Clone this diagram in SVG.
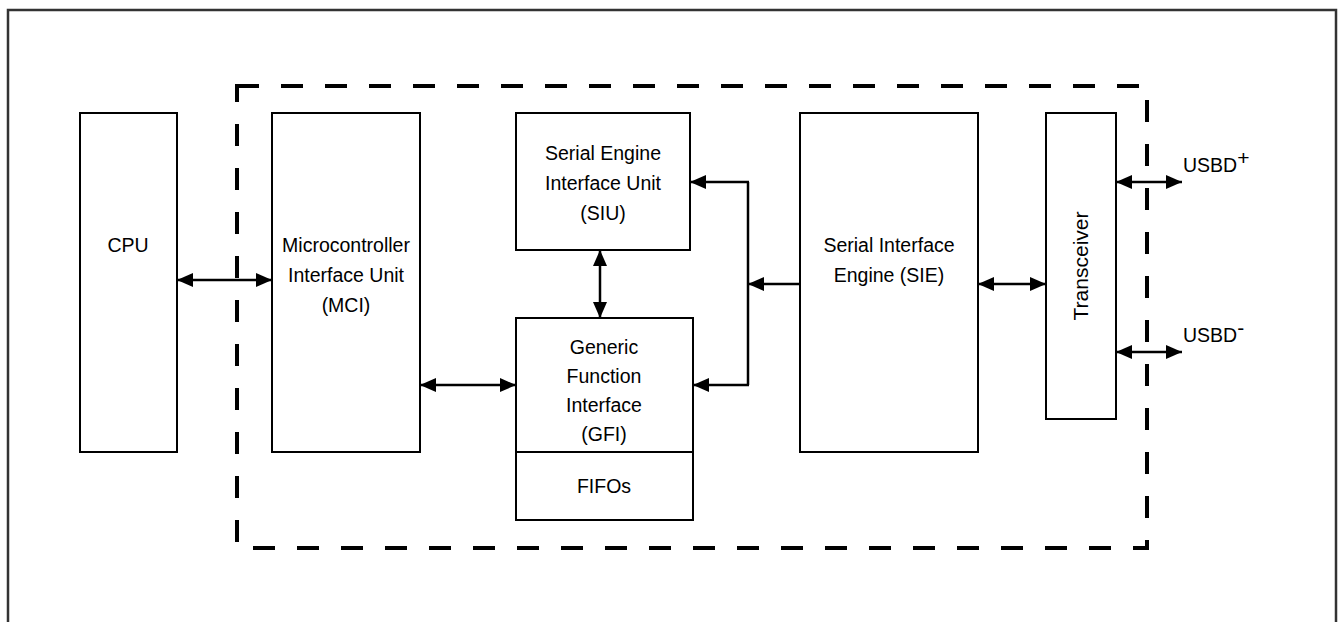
<svg xmlns="http://www.w3.org/2000/svg" width="1339" height="622" viewBox="0 0 1339 622">
<defs>
<marker id="ah" viewBox="0 0 16 14" refX="16" refY="7" markerWidth="16" markerHeight="14" markerUnits="userSpaceOnUse" orient="auto-start-reverse">
<path d="M0,0 L16,7 L0,14 Z" fill="#000"/>
</marker>
</defs>
<style>
.box{fill:#fff;stroke:#000;stroke-width:2}
.t{font-family:"Liberation Sans",Arial,sans-serif;font-size:19.5px;fill:#000;text-anchor:middle}
.c{fill:none;stroke:#000;stroke-width:2.5}
</style>
<rect x="8" y="10" width="1328" height="620" fill="#fff" stroke="#333" stroke-width="2.5"/>
<g id="cpu"><rect class="box" x="80" y="113" width="97" height="339"/><text class="t" x="128" y="252">CPU</text></g>
<g id="mci"><rect class="box" x="272" y="113" width="148" height="339"/>
<text class="t" x="346" y="252">Microcontroller</text><text class="t" x="346" y="282">Interface Unit</text><text class="t" x="346" y="312">(MCI)</text></g>
<g id="siu"><rect class="box" x="516" y="113" width="174" height="137"/>
<text class="t" x="603" y="160">Serial Engine</text><text class="t" x="603" y="190">Interface Unit</text><text class="t" x="603" y="220">(SIU)</text></g>
<g id="gfi"><rect class="box" x="516" y="318" width="177" height="134"/>
<text class="t" x="604" y="354">Generic</text><text class="t" x="604" y="383">Function</text><text class="t" x="604" y="412">Interface</text><text class="t" x="604" y="441">(GFI)</text></g>
<g id="fifos"><rect class="box" x="516" y="452" width="177" height="68"/><text class="t" x="604" y="493">FIFOs</text></g>
<g id="sie"><rect class="box" x="800" y="113" width="178" height="339"/>
<text class="t" x="889" y="252">Serial Interface</text><text class="t" x="889" y="282">Engine (SIE)</text></g>
<g id="transceiver"><rect class="box" x="1046" y="113" width="70" height="306"/>
<text class="t" transform="translate(1088,266) rotate(-90)" x="0" y="0" style="font-size:21px">Transceiver</text></g>
<g id="usbdp"><text class="t" x="1183" y="172" style="text-anchor:start">USBD<tspan dy="-7" style="font-size:21px">+</tspan></text></g>
<g id="usbdm"><text class="t" x="1183" y="342" style="text-anchor:start">USBD<tspan dy="-7" style="font-size:21px">-</tspan></text></g>
<g id="connectors">
<line class="c" x1="177" y1="280" x2="272" y2="280" marker-start="url(#ah)" marker-end="url(#ah)"/>
<line class="c" x1="420" y1="385" x2="516" y2="385" marker-start="url(#ah)" marker-end="url(#ah)"/>
<line class="c" x1="600" y1="250" x2="600" y2="318" marker-start="url(#ah)" marker-end="url(#ah)"/>
<polyline class="c" points="748,182 748,385"/>
<line class="c" x1="749" y1="182" x2="690" y2="182" marker-end="url(#ah)"/>
<line class="c" x1="749" y1="385" x2="693" y2="385" marker-end="url(#ah)"/>
<line class="c" x1="800" y1="284" x2="748" y2="284" marker-end="url(#ah)"/>
<line class="c" x1="978" y1="284" x2="1046" y2="284" marker-start="url(#ah)" marker-end="url(#ah)"/>
<line class="c" x1="1116" y1="182" x2="1182" y2="182" marker-start="url(#ah)" marker-end="url(#ah)"/>
<line class="c" x1="1116" y1="352" x2="1182" y2="352" marker-start="url(#ah)" marker-end="url(#ah)"/>
</g>
<rect id="boundary" x="237" y="86" width="910" height="462" fill="none" stroke="#000" stroke-width="4" stroke-dasharray="22,22"/>
</svg>
